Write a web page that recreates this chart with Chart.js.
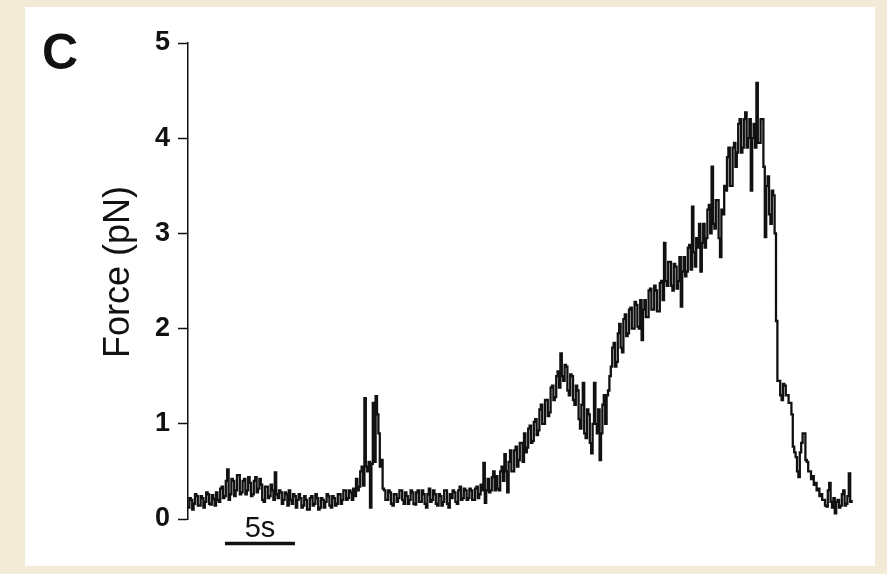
<!DOCTYPE html>
<html>
<head>
<meta charset="utf-8">
<title>Force trace</title>
<script src="https://cdn.jsdelivr.net/npm/chart.js@4.4.1/dist/chart.umd.min.js"></script>
<style>
  html, body { margin: 0; padding: 0; background: #f3ebd8; }
  canvas { display: block; }
</style>
</head>
<body>
<canvas id="trace" width="887" height="574"></canvas>
<script>
// Optical-trap force recording, sampled every 0.1 s (pN)
const SAMPLE_DT = 0.1;            // seconds between samples
const TIME_MAX = 47.5;            // s, end of the recording window
const Y_TICKS = [0, 1, 2, 3, 4, 5];
const PANEL_LABEL = 'C';
const Y_TITLE = 'Force (pN)';
const SCALE_BAR_SECONDS = 5;
const SCALE_BAR_START = 2.64;     // s
const SCALE_BAR_LABEL = '5s';

const force = [
  0.12, 0.22, 0.2, 0.1, 0.16, 0.26, 0.24, 0.14, 0.14, 0.24, 0.22, 0.12, 0.18, 0.28, 0.26, 0.16, 0.15, 0.25, 0.21, 0.14,
  0.28, 0.2, 0.18, 0.32, 0.34, 0.22, 0.24, 0.4, 0.52, 0.2, 0.26, 0.42, 0.4, 0.24, 0.3, 0.46, 0.46, 0.26, 0.28, 0.4,
  0.42, 0.26, 0.3, 0.44, 0.38, 0.24, 0.26, 0.4, 0.44, 0.28, 0.32, 0.42, 0.36, 0.2, 0.18, 0.34, 0.34, 0.22, 0.24, 0.36,
  0.3, 0.2, 0.49, 0.26, 0.22, 0.3, 0.28, 0.16, 0.2, 0.28, 0.26, 0.14, 0.3, 0.2, 0.16, 0.26, 0.24, 0.12, 0.2, 0.26,
  0.22, 0.12, 0.14, 0.24, 0.2, 0.1, 0.1, 0.22, 0.24, 0.14, 0.16, 0.26, 0.22, 0.1, 0.12, 0.22, 0.2, 0.12, 0.18, 0.26,
  0.24, 0.14, 0.12, 0.24, 0.22, 0.14, 0.16, 0.26, 0.26, 0.16, 0.2, 0.3, 0.3, 0.2, 0.22, 0.3, 0.28, 0.2, 0.32, 0.24,
  0.42, 0.3, 0.34, 0.5, 0.55, 0.35, 1.27, 0.55, 0.5, 0.6, 0.12, 0.58, 1.22, 0.6, 1.29, 1.1, 0.9, 0.55, 0.62, 0.32,
  0.3, 0.2, 0.2, 0.3, 0.28, 0.16, 0.14, 0.26, 0.26, 0.18, 0.22, 0.3, 0.3, 0.2, 0.16, 0.28, 0.24, 0.16, 0.2, 0.3,
  0.28, 0.16, 0.15, 0.28, 0.3, 0.18, 0.18, 0.3, 0.26, 0.16, 0.12, 0.26, 0.32, 0.18, 0.2, 0.3, 0.26, 0.16, 0.14, 0.26,
  0.24, 0.14, 0.18, 0.3, 0.3, 0.16, 0.12, 0.26, 0.22, 0.3, 0.28, 0.18, 0.16, 0.3, 0.34, 0.2, 0.22, 0.32, 0.3, 0.2,
  0.22, 0.32, 0.3, 0.2, 0.2, 0.32, 0.34, 0.22, 0.26, 0.36, 0.3, 0.59, 0.17, 0.3, 0.42, 0.28, 0.3, 0.44, 0.5, 0.3,
  0.45, 0.32, 0.3, 0.5, 0.55, 0.4, 0.68, 0.5, 0.28, 0.6, 0.72, 0.5, 0.5, 0.72, 0.76, 0.55, 0.62, 0.8, 0.8, 0.6,
  0.9, 0.7, 0.75, 0.95, 0.98, 0.8, 0.82, 1.02, 1.05, 0.88, 0.93, 1.15, 1.2, 1.0, 1.0, 1.25, 1.25, 1.08, 1.12, 1.38,
  1.4, 1.25, 1.28, 1.5, 1.55, 1.38, 1.74, 1.5, 1.45, 1.62, 1.6, 1.35, 1.3, 1.52, 1.5, 1.25, 1.2, 1.4, 1.35, 1.05,
  0.95, 1.2, 1.43, 0.9, 0.85, 1.15, 1.1, 0.8, 0.69, 1.0, 1.43, 1.0, 0.9, 1.15, 0.62, 0.9, 1.2, 1.3, 1.0, 1.3,
  1.35, 1.5, 1.6, 1.8, 1.85, 1.6, 1.65, 1.95, 2.05, 1.8, 1.75, 2.1, 2.15, 1.92, 1.95, 2.2, 2.22, 2.0, 2.0, 2.28,
  2.25, 2.02, 2.0, 2.3, 1.88, 2.2, 2.3, 2.12, 2.12, 2.4, 2.42, 2.2, 2.2, 2.45, 2.4, 2.18, 2.18, 2.48, 2.5, 2.3,
  2.9, 2.5, 2.45, 2.7, 2.7, 2.45, 2.4, 2.68, 2.65, 2.42, 2.5, 2.75, 2.23, 2.6, 2.75, 2.55, 2.6, 2.85, 2.88, 2.62,
  3.28, 2.8, 2.65, 2.95, 2.85, 3.1, 2.6, 2.9, 3.1, 2.85, 2.95, 3.25, 3.3, 3.0, 3.7, 3.1, 3.05, 3.35, 3.35, 2.95,
  2.75, 3.25, 3.2, 3.5, 3.45, 3.8, 3.9, 3.5, 3.5, 3.9, 3.95, 3.7, 3.85, 4.15, 4.2, 3.85, 3.9, 4.2, 4.27, 3.9,
  4.0, 4.2, 3.45, 4.0, 4.15, 3.9, 4.58, 3.95, 3.95, 4.2, 4.2, 3.7, 2.96, 3.5, 3.6, 3.2, 3.1, 3.45, 3.4, 3.0,
  2.08, 1.45, 1.45, 1.3, 1.25, 1.42, 1.4, 1.3, 1.3, 1.22, 1.22, 1.1, 0.76, 0.7, 0.65, 0.5, 0.44, 0.7, 0.8, 0.9,
  0.9, 0.62, 0.6, 0.5, 0.5, 0.42, 0.45, 0.36, 0.38, 0.3, 0.32, 0.24, 0.26, 0.2, 0.2, 0.14, 0.13, 0.3, 0.38, 0.18,
  0.12, 0.22, 0.06, 0.18, 0.2, 0.12, 0.14, 0.26, 0.3, 0.14, 0.16, 0.24, 0.48, 0.18, 0.2
];

const FONT = '"Liberation Sans", Arial, Helvetica, sans-serif';
const INK = '#111111';

const points = force.map((v, i) => ({ x: i * SAMPLE_DT, y: v }));

// Beige page with white figure panel, plus panel letter, axis title and time scale bar
const figureDecor = {
  id: 'figureDecor',
  beforeDraw(chart) {
    const ctx = chart.ctx;
    ctx.save();
    ctx.fillStyle = '#f3ebd8';
    ctx.fillRect(0, 0, chart.width, chart.height);
    ctx.fillStyle = '#ffffff';
    ctx.fillRect(25, 7, 850, 559);
    ctx.restore();
  },
  afterDraw(chart) {
    const ctx = chart.ctx;
    const xs = chart.scales.x;
    ctx.save();
    ctx.fillStyle = INK;

    // panel letter
    ctx.font = 'bold 50px ' + FONT;
    ctx.textAlign = 'left';
    ctx.textBaseline = 'alphabetic';
    ctx.fillText(PANEL_LABEL, 42, 69);

    // y-axis title, rotated
    ctx.save();
    ctx.translate(129, 272);
    ctx.rotate(-Math.PI / 2);
    ctx.font = '36px ' + FONT;
    ctx.textAlign = 'center';
    ctx.textBaseline = 'alphabetic';
    ctx.fillText(Y_TITLE, 0, 0);
    ctx.restore();

    // time scale bar
    const x0 = xs.getPixelForValue(SCALE_BAR_START);
    const x1 = xs.getPixelForValue(SCALE_BAR_START + SCALE_BAR_SECONDS);
    ctx.strokeStyle = INK;
    ctx.lineWidth = 3.5;
    ctx.beginPath();
    ctx.moveTo(x0, 543.5);
    ctx.lineTo(x1, 543.5);
    ctx.stroke();
    ctx.font = '29px ' + FONT;
    ctx.textAlign = 'center';
    ctx.fillText(SCALE_BAR_LABEL, (x0 + x1) / 2, 537);
    ctx.restore();
  }
};

new Chart(document.getElementById('trace'), {
  type: 'line',
  data: {
    datasets: [{
      data: points,
      borderColor: INK,
      borderWidth: 2.3,
      pointRadius: 0,
      stepped: true,
      tension: 0,
      fill: false
    }]
  },
  options: {
    responsive: false,
    devicePixelRatio: 1,
    animation: false,
    events: [],
    layout: { padding: { left: 0, right: 34, top: 43, bottom: 55 } },
    plugins: { legend: { display: false }, tooltip: { enabled: false } },
    scales: {
      x: { type: 'linear', min: 0, max: TIME_MAX, display: false },
      y: {
        type: 'linear',
        min: 0,
        max: 5,
        afterBuildTicks(scale) { scale.ticks = Y_TICKS.map(v => ({ value: v })); },
        afterFit(scale) { scale.width = 188; },
        ticks: {
          color: INK,
          padding: 8,
          font: { family: FONT, size: 27, weight: 'bold' }
        },
        grid: {
          drawOnChartArea: false,
          drawTicks: true,
          tickLength: 10,
          tickWidth: 1.5,
          tickColor: INK
        },
        border: { display: true, color: INK, width: 1.5 }
      }
    }
  },
  plugins: [figureDecor]
});
</script>
</body>
</html>
